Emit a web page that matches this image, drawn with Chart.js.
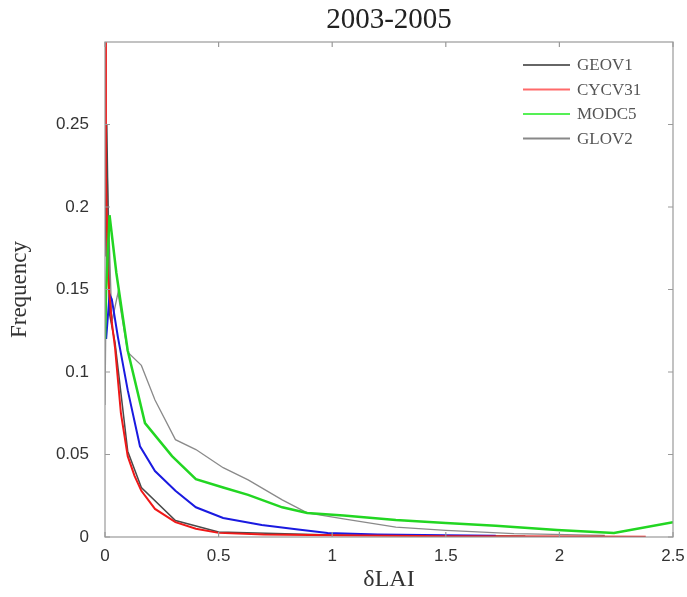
<!DOCTYPE html>
<html>
<head>
<meta charset="utf-8">
<script src="https://cdn.jsdelivr.net/npm/chart.js@4"></script>
<style>
  body { margin: 0; background: #fff; }
</style>
</head>
<body>
<canvas id="grafico" width="687" height="597"></canvas>
<script>
// Datos (δLAI vs frecuencia)
const xGeov1 = [0, 0.008, 0.02, 0.044, 0.1, 0.16, 0.31, 0.5, 1.0, 1.5, 1.85];
const yGeov1 = [0.17, 0.25, 0.135, 0.118, 0.052, 0.03, 0.01, 0.003, 0.0012, 0.0008, 0.0005];

const xCycv31 = [0, 0.004, 0.013, 0.03, 0.044, 0.07, 0.1, 0.13, 0.16, 0.22, 0.31, 0.4, 0.5, 0.7, 1.0, 1.5, 2.0, 2.38];
const yCycv31 = [0.32, 0.22, 0.158, 0.13, 0.115, 0.075, 0.049, 0.037, 0.028, 0.017, 0.009, 0.005, 0.0025, 0.0015, 0.001, 0.0005, 0.0003, 0.0002];

const xModc5 = [0, 0.005, 0.02, 0.05, 0.1, 0.176, 0.295, 0.4, 0.52, 0.63, 0.78, 0.89, 1.05, 1.28, 1.5, 1.72, 1.99, 2.24, 2.5];
const yModc5 = [0.12, 0.15, 0.195, 0.16, 0.113, 0.069, 0.049, 0.035, 0.030, 0.0255, 0.018, 0.0146, 0.013, 0.0103, 0.0085, 0.0068, 0.0042, 0.0024, 0.009];

const xGlov2 = [0, 0.01, 0.03, 0.057, 0.1, 0.16, 0.22, 0.31, 0.4, 0.52, 0.63, 0.78, 0.89, 1.05, 1.28, 1.5, 1.8, 2.2];
const yGlov2 = [0.08, 0.22, 0.13, 0.148, 0.112, 0.104, 0.083, 0.059, 0.053, 0.042, 0.0346, 0.0225, 0.0146, 0.011, 0.006, 0.004, 0.002, 0.001];

// curva azul (sin entrada en la leyenda)
const xAzul = [0.005, 0.02, 0.03, 0.057, 0.1, 0.154, 0.22, 0.31, 0.4, 0.52, 0.69, 0.85, 0.98, 1.2, 1.5, 1.72];
const yAzul = [0.12, 0.147, 0.144, 0.121, 0.089, 0.055, 0.04, 0.028, 0.018, 0.0115, 0.0073, 0.0045, 0.0024, 0.0015, 0.001, 0.0008];

const xTicks = [0, 0.5, 1, 1.5, 2, 2.5];
const yTicks = [0, 0.05, 0.1, 0.15, 0.2, 0.25];

function puntos(xs, ys) {
    return xs.map((x, i) => ({ x: x, y: ys[i] }));
}

const serie = (label, xs, ys, color, ancho, orden) => ({
    label: label,
    data: puntos(xs, ys),
    borderColor: color,
    backgroundColor: color,
    borderWidth: ancho,
    pointRadius: 0,
    fill: false,
    tension: 0,
    order: orden
});

// Título, marco, marcas y leyenda al estilo Matlab
const estiloMatlab = {
    id: 'estiloMatlab',
    afterDraw(chart) {
        const ctx = chart.ctx;
        const a = chart.chartArea;
        ctx.save();
        // marco
        ctx.strokeStyle = '#9a9a9a';
        ctx.lineWidth = 1.2;
        ctx.strokeRect(a.left, a.top, a.right - a.left, a.bottom - a.top);
        // marcas hacia dentro
        const sx = chart.scales.x, sy = chart.scales.y;
        ctx.beginPath();
        xTicks.forEach(v => {
            const px = sx.getPixelForValue(v);
            ctx.moveTo(px, a.bottom); ctx.lineTo(px, a.bottom - 5);
            ctx.moveTo(px, a.top); ctx.lineTo(px, a.top + 5);
        });
        yTicks.forEach(v => {
            const py = sy.getPixelForValue(v);
            ctx.moveTo(a.left, py); ctx.lineTo(a.left + 5, py);
            ctx.moveTo(a.right, py); ctx.lineTo(a.right - 5, py);
        });
        ctx.stroke();
        // título
        ctx.fillStyle = '#222';
        ctx.font = '29px "Liberation Serif", "DejaVu Serif", serif';
        ctx.textAlign = 'center';
        ctx.textBaseline = 'middle';
        ctx.fillText('2003-2005', (a.left + a.right) / 2, 20);
        // leyenda
        ctx.font = '17px "Liberation Serif", "DejaVu Serif", serif';
        ctx.textAlign = 'left';
        let fila = 0;
        chart.data.datasets.forEach(ds => {
            if (!ds.label) return;
            const y = 65 + fila * 24.5;
            ctx.strokeStyle = ds.leyendaColor || ds.borderColor;
            ctx.lineWidth = 2;
            ctx.beginPath();
            ctx.moveTo(523, y); ctx.lineTo(570, y);
            ctx.stroke();
            ctx.fillStyle = '#555';
            ctx.fillText(ds.label, 577, y + 1);
            fila++;
        });
        ctx.restore();
    }
};

const datasets = [
    Object.assign(serie('GEOV1', xGeov1, yGeov1, '#4a4a4a', 1.5, 3), { leyendaColor: '#666' }),
    Object.assign(serie('CYCV31', xCycv31, yCycv31, '#f01818', 2, 1), { leyendaColor: '#ff6a6a' }),
    Object.assign(serie('MODC5', xModc5, yModc5, '#22d622', 2.5, 0), { leyendaColor: '#55f055' }),
    Object.assign(serie('GLOV2', xGlov2, yGlov2, '#8a8a8a', 1.3, 4), { leyendaColor: '#888' }),
    serie('', xAzul, yAzul, '#1a1ae0', 2, 2)
];

new Chart(document.getElementById('grafico').getContext('2d'), {
    type: 'line',
    data: { datasets: datasets },
    options: {
        responsive: false,
        animation: false,
        devicePixelRatio: 1,
        layout: { padding: { top: 42, right: 14, left: 0, bottom: 0 } },
        plugins: {
            legend: { display: false },
            title: { display: false },
            tooltip: { enabled: false }
        },
        scales: {
            x: {
                type: 'linear',
                min: 0,
                max: 2.5,
                afterFit: s => { s.height = 60; s.paddingLeft = 0; s.paddingRight = 0; },
                afterBuildTicks: s => { s.ticks = xTicks.map(v => ({ value: v })); },
                grid: { display: false, drawTicks: false },
                border: { display: false },
                ticks: {
                    padding: 9,
                    color: '#333',
                    font: { family: '"Liberation Sans", Arial, sans-serif', size: 17 },
                    callback: v => String(v)
                },
                title: {
                    display: true,
                    text: 'δLAI',
                    color: '#333',
                    font: { family: '"Liberation Serif", "DejaVu Serif", serif', size: 24 },
                    padding: { top: 0, bottom: 3 }
                }
            },
            y: {
                min: 0,
                max: 0.3,
                afterFit: s => { s.width = 105; s.paddingTop = 0; s.paddingBottom = 0; },
                afterBuildTicks: s => { s.ticks = yTicks.map(v => ({ value: v })); },
                grid: { display: false, drawTicks: false },
                border: { display: false },
                ticks: {
                    padding: 16,
                    color: '#333',
                    font: { family: '"Liberation Sans", Arial, sans-serif', size: 17 },
                    callback: v => String(parseFloat(v.toFixed(2)))
                },
                title: {
                    display: true,
                    text: 'Frequency',
                    color: '#333',
                    font: { family: '"Liberation Serif", "DejaVu Serif", serif', size: 23 },
                    padding: { top: 6, bottom: 0 }
                }
            }
        }
    },
    plugins: [estiloMatlab]
});
</script>
</body>
</html>
